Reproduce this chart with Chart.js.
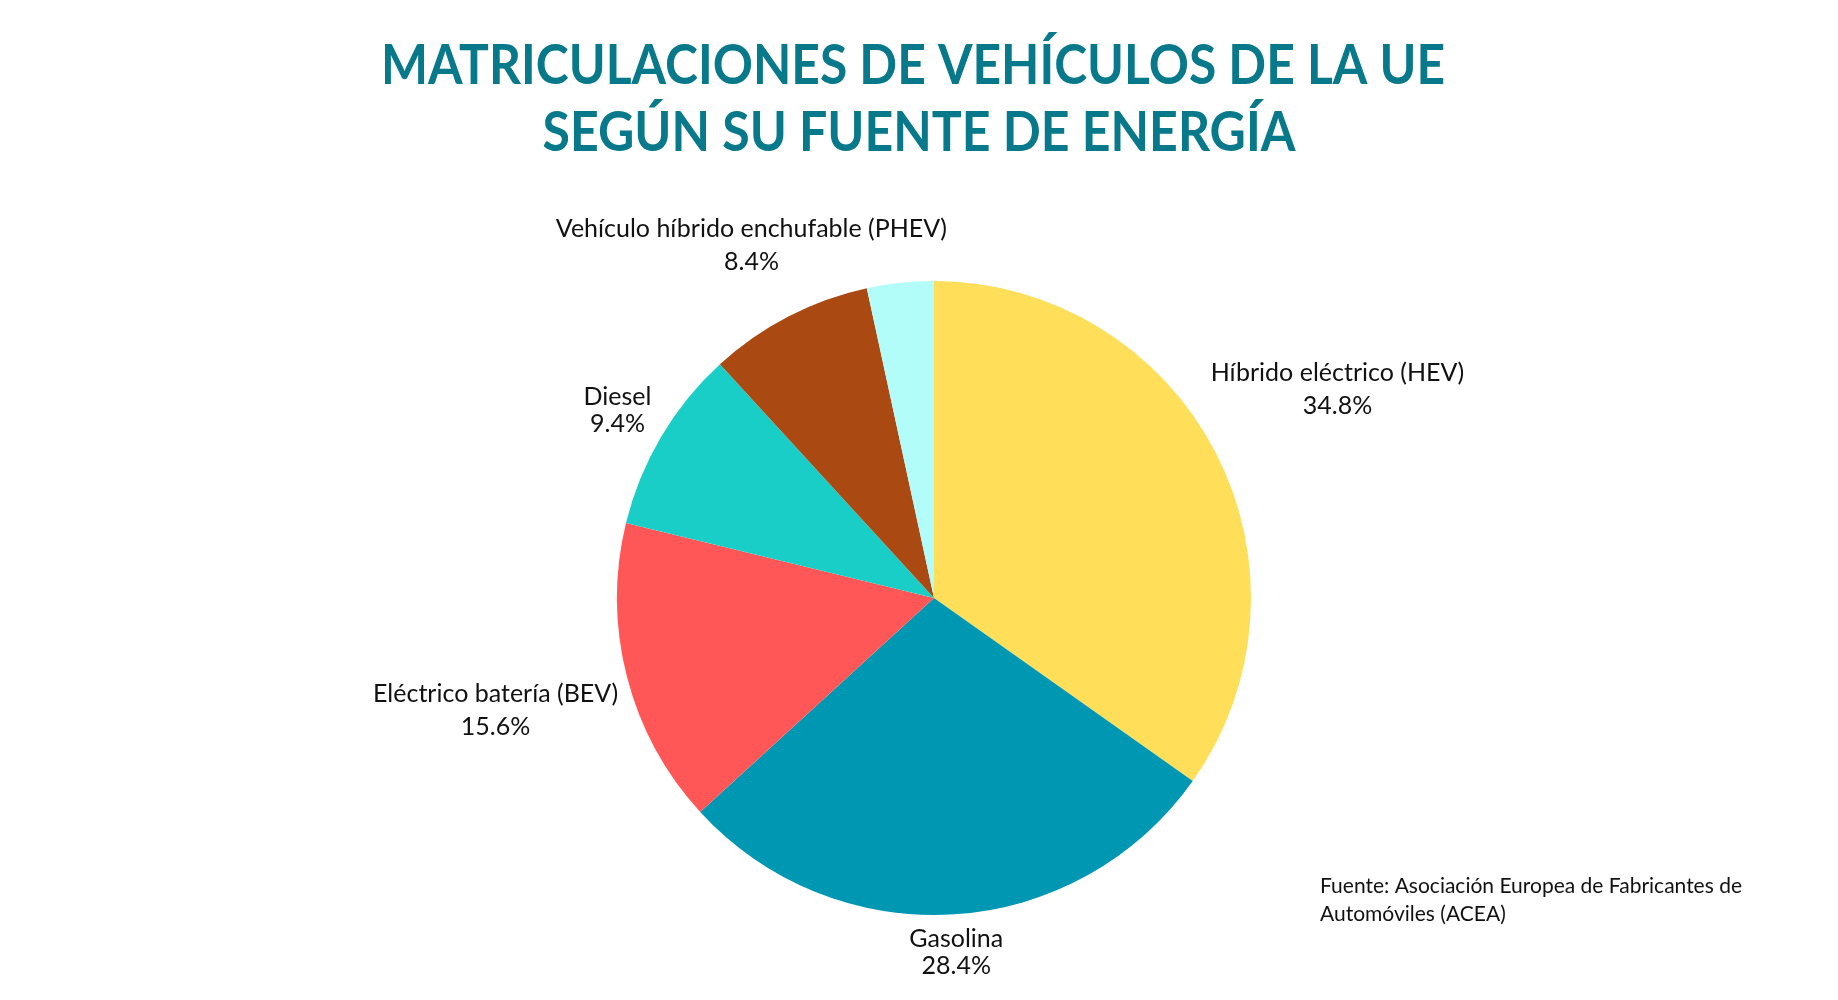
<!DOCTYPE html>
<html lang="es">
<head>
<meta charset="UTF-8">
<title>Matriculaciones UE</title>
<style>
body{margin:0;padding:0;background:#fff;}
#wrap{width:1838px;height:1000px;}
</style>
<script src="https://cdn.jsdelivr.net/npm/chart.js"></script>
</head>
<body>
<div id="wrap"><canvas id="chart" width="1838" height="1000"></canvas></div>
<script>
// datos
const categorias = ['Híbrido eléctrico (HEV)', 'Gasolina', 'Eléctrico batería (BEV)', 'Diesel', 'Vehículo híbrido enchufable (PHEV)', 'Otros'];
const valores = [34.8, 28.4, 15.6, 9.4, 8.4, 3.4];
const mostrarEtiqueta = [true, true, true, true, true, false];
const colores = ['#FFDE59', '#0097B2', '#FF5757', '#1ACEC8', '#AA4A12', '#B2FCFA'];

const titulo = ['MATRICULACIONES DE VEHÍCULOS DE LA UE', 'SEGÚN SU FUENTE DE ENERGÍA'];
const fuente = ['Fuente: Asociación Europea de Fabricantes de', 'Automóviles (ACEA)'];

// distancia de cada etiqueta (en radios) y separación de líneas
const distEtiqueta = [1.433, 1.12, 1.428, 1.16, 1.253, 1.2];
const sepLineas = [33, 27, 33, 27, 33, 33];

const textos = {
  id: 'textos',
  afterDraw(chart) {
    const ctx = chart.ctx;
    ctx.save();
    // titulo
    ctx.fillStyle = '#07798A';
    ctx.font = 'bold 55px Lato';
    ctx.textAlign = 'center';
    ctx.textBaseline = 'alphabetic';
    ctx.fillText(titulo[0], 913, 84, 1064);
    ctx.fillText(titulo[1], 919, 151, 753);

    // etiquetas
    const arcs = chart.getDatasetMeta(0).data;
    ctx.fillStyle = '#111';
    ctx.font = '25px Lato';
    ctx.textBaseline = 'middle';
    arcs.forEach((a, i) => {
      if (!mostrarEtiqueta[i]) return;
      const mid = (a.startAngle + a.endAngle) / 2;
      const r = a.outerRadius * distEtiqueta[i];
      const x = a.x + Math.cos(mid) * r;
      const y = a.y + Math.sin(mid) * r;
      const h = sepLineas[i] / 2;
      ctx.fillText(categorias[i], x, y - h);
      ctx.fillText(valores[i].toFixed(1) + '%', x, y + h);
    });

    // fuente
    ctx.font = '21px Lato';
    ctx.textAlign = 'left';
    ctx.textBaseline = 'alphabetic';
    ctx.fillText(fuente[0], 1320, 893);
    ctx.fillText(fuente[1], 1320, 921);
    ctx.restore();
  }
};

new Chart(document.getElementById('chart'), {
  type: 'pie',
  data: {
    labels: categorias,
    datasets: [{
      data: valores,
      backgroundColor: colores,
      borderWidth: 0
    }]
  },
  options: {
    responsive: false,
    animation: false,
    layout: { padding: { top: 281, bottom: 85, left: 617, right: 587 } },
    plugins: { legend: { display: false }, tooltip: { enabled: false } }
  },
  plugins: [textos]
});
</script>
</body>
</html>
